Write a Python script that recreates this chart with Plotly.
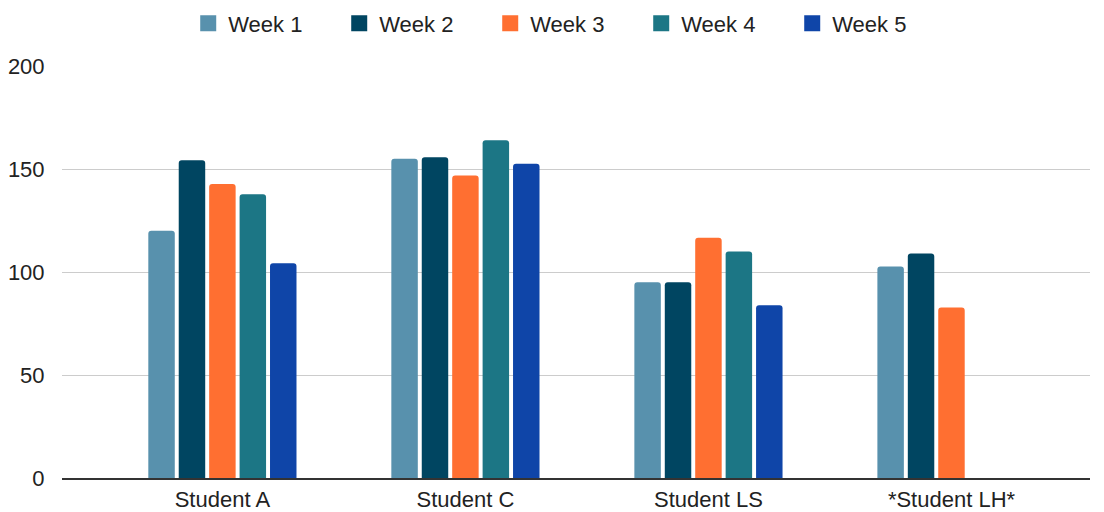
import plotly.graph_objects as go

categories = ["Student A", "Student C", "Student LS", "*Student LH*"]
week1 = [120, 155, 95, 102.7]
week2 = [154.3, 155.7, 95, 109]
week3 = [142.7, 146.8, 116.6, 82.8]
week4 = [137.7, 164, 110, None]
week5 = [104.2, 152.5, 83.8, None]
series_names = ["Week 1", "Week 2", "Week 3", "Week 4", "Week 5"]
colors = ["#5891AD", "#004561", "#FF6F31", "#1C7685", "#0F45A8"]

fig = go.Figure()
for name, vals, col in zip(series_names, [week1, week2, week3, week4, week5], colors):
    fig.add_trace(go.Bar(x=categories, y=vals, name=name, marker_color=col,
                         marker_line_width=0, showlegend=False, legendgroup=name))
# legend entries (square swatches)
for name, col in zip(series_names, colors):
    fig.add_trace(go.Scatter(x=[None], y=[None], mode="markers", name=name,
                             legendgroup=name,
                             marker=dict(symbol="square", size=21, color=col)))

fig.update_layout(
    width=1104, height=512,
    margin=dict(l=62, r=14, t=66, b=34),
    paper_bgcolor="white", plot_bgcolor="white",
    barmode="group", bargap=0.374, bargroupgap=0.13,
    barcornerradius=3,
    font=dict(family="Liberation Sans, Arial, sans-serif", size=22, color="#222"),
    legend=dict(orientation="h", x=0.49, xanchor="center", y=0.995, yanchor="top",
                yref="container", font=dict(size=22, color="#222"),
                entrywidth=106, entrywidthmode="pixels", traceorder="normal"),
    xaxis=dict(range=[-0.66, 3.57], showgrid=False, showline=True, linecolor="#333",
               linewidth=1.5, ticks="outside", ticklen=1, tickcolor="rgba(0,0,0,0)",
               automargin=False, tickfont=dict(size=22, color="#222")),
    yaxis=dict(range=[0, 200], tickvals=[0, 50, 100, 150, 200], showgrid=True,
               gridcolor="#cccccc", gridwidth=1, zeroline=False, showline=False,
               ticks="outside", ticklen=12, tickcolor="rgba(0,0,0,0)",
               automargin=False, tickfont=dict(size=22, color="#222")),
)
fig.write_html("out.html")
